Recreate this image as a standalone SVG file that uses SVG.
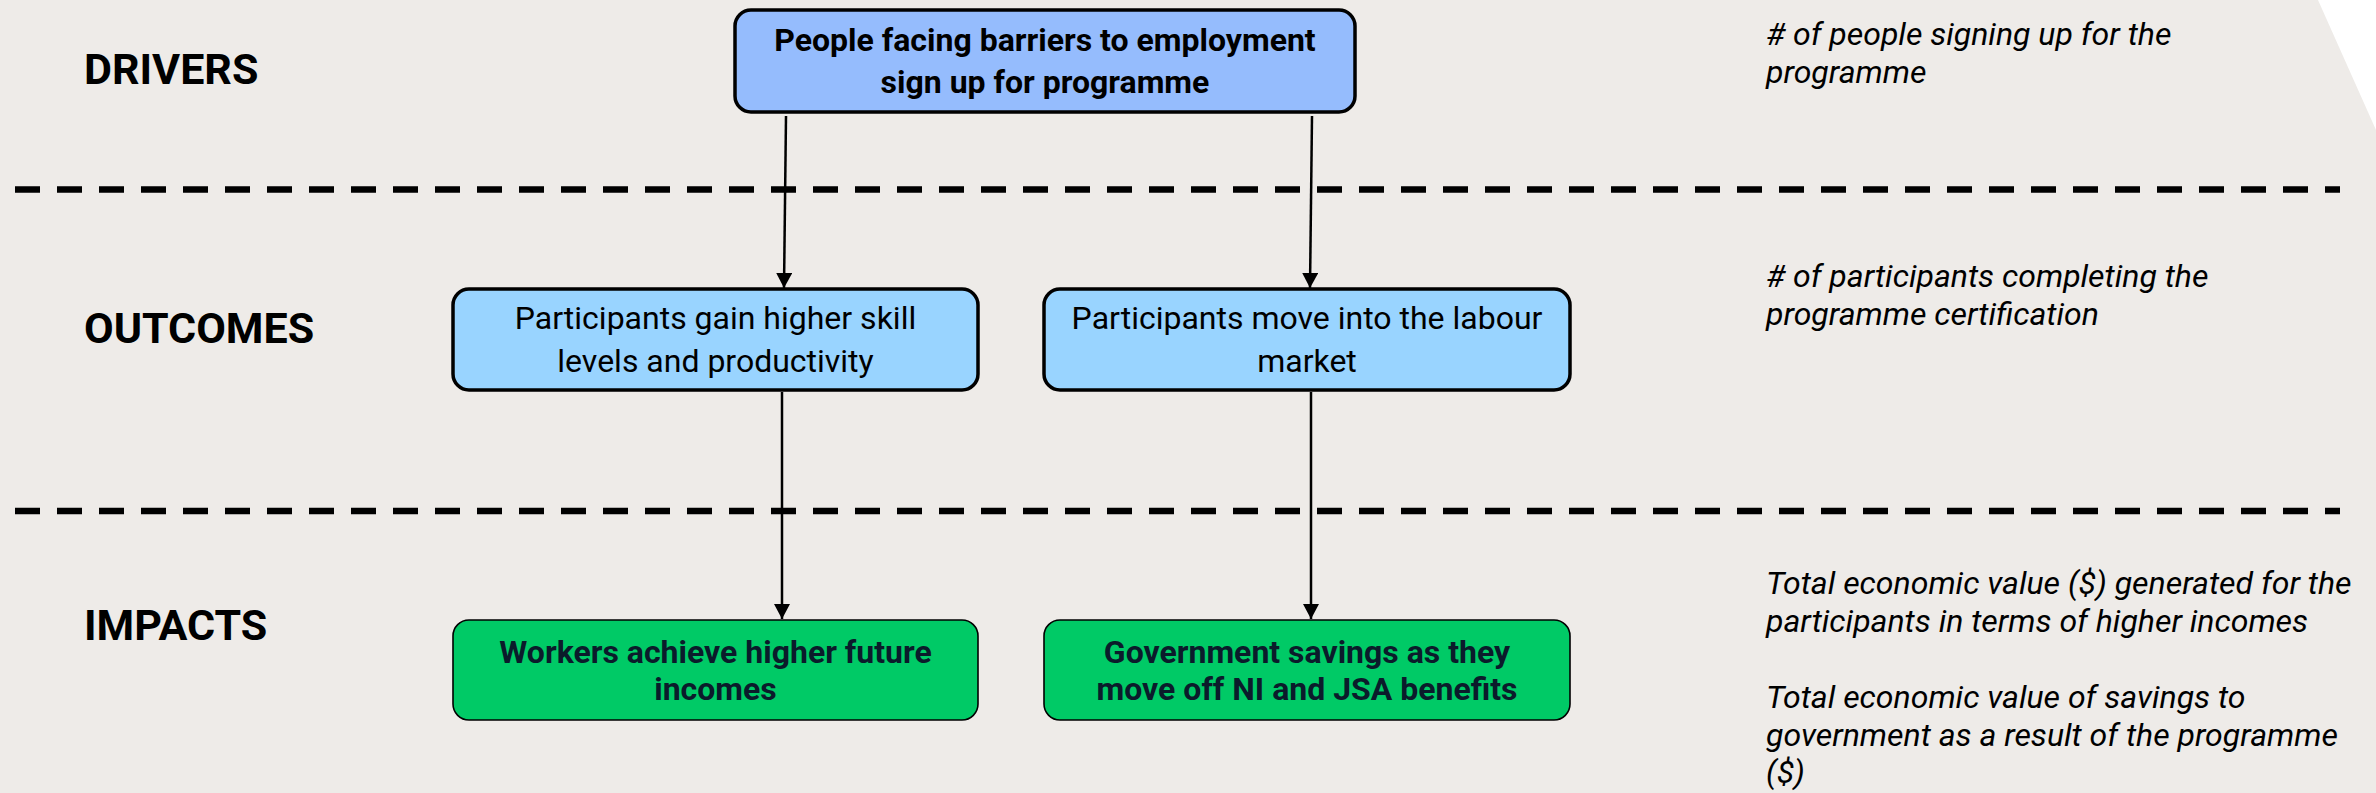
<svg xmlns="http://www.w3.org/2000/svg" width="2376" height="793" viewBox="0 0 2376 793">
<style>
.lbl{font-family:Roboto,"Liberation Sans",sans-serif;font-weight:700;font-size:43px;fill:#000}
.drv{fill:#95bcfd;stroke:#000;stroke-width:3.5}
.out{fill:#99d4ff;stroke:#000;stroke-width:3.5}
.imp{fill:#00ca66;stroke:#000;stroke-width:1.6}
.tb{font-family:Roboto,"Liberation Sans",sans-serif;font-weight:700;font-size:32px;fill:#000;text-anchor:middle}
.tr{font-family:Roboto,"Liberation Sans",sans-serif;font-weight:400;font-size:32px;fill:#000;text-anchor:middle}
.ti{font-family:Roboto,"Liberation Sans",sans-serif;font-weight:700;font-size:32px;fill:#0b1b2b;text-anchor:middle}
.note{font-family:Roboto,"Liberation Sans",sans-serif;font-style:italic;font-size:32px;fill:#000}
.dash{stroke:#000;stroke-width:6.5;stroke-dasharray:25 17;fill:none}
.arr{stroke:#000;stroke-width:2.5;fill:none;marker-end:url(#ah)}
</style>
<defs>
<marker id="ah" markerUnits="userSpaceOnUse" viewBox="0 0 15 16" markerWidth="15" markerHeight="16" refX="15" refY="8" orient="auto">
<path d="M0,0 L15,8 L0,16 z" fill="#000"/>
</marker>
</defs>
<rect x="0" y="0" width="2376" height="793" fill="#ffffff"/>
<polygon points="0,0 2318,0 2376,130 2376,793 0,793" fill="#eeebe8"/>
<g id="separators">
<line class="dash" x1="15" y1="189.5" x2="2340" y2="189.5"/>
<line class="dash" x1="15" y1="511" x2="2340" y2="511"/>
</g>
<g id="row-labels">
<text class="lbl" x="84" y="84">DRIVERS</text>
<text class="lbl" x="84" y="343">OUTCOMES</text>
<text class="lbl" x="84" y="640">IMPACTS</text>
</g>
<g id="connectors">
<line class="arr" x1="786" y1="116" x2="784" y2="288"/>
<line class="arr" x1="1312" y1="116" x2="1310" y2="288"/>
<line class="arr" x1="782" y1="392" x2="782" y2="619"/>
<line class="arr" x1="1311" y1="392" x2="1311" y2="619"/>
</g>
<g id="node-driver">
<rect class="drv" x="735" y="10" width="620" height="102" rx="16"/>
<text class="tb" x="1045" y="51">People facing barriers to employment</text>
<text class="tb" x="1045" y="93">sign up for programme</text>
</g>
<g id="node-outcome-skills">
<rect class="out" x="453" y="289" width="525" height="101" rx="16"/>
<text class="tr" x="715.5" y="329">Participants gain higher skill</text>
<text class="tr" x="715.5" y="372">levels and productivity</text>
</g>
<g id="node-outcome-labour">
<rect class="out" x="1044" y="289" width="526" height="101" rx="16"/>
<text class="tr" x="1307" y="329">Participants move into the labour</text>
<text class="tr" x="1307" y="372">market</text>
</g>
<g id="node-impact-incomes">
<rect class="imp" x="453" y="620" width="525" height="100" rx="16"/>
<text class="ti" x="715.5" y="663">Workers achieve higher future</text>
<text class="ti" x="715.5" y="700">incomes</text>
</g>
<g id="node-impact-savings">
<rect class="imp" x="1044" y="620" width="526" height="100" rx="16"/>
<text class="ti" x="1307" y="663">Government savings as they</text>
<text class="ti" x="1307" y="700">move off NI and JSA benefits</text>
</g>
<g id="notes">
<text class="note" x="1766" y="45">
<tspan x="1766" y="45"># of people signing up for the</tspan>
<tspan x="1766" y="83">programme</tspan>
</text>
<text class="note" x="1766" y="287">
<tspan x="1766" y="287"># of participants completing the</tspan>
<tspan x="1766" y="325">programme certification</tspan>
</text>
<text class="note" x="1766" y="594">
<tspan x="1766" y="594">Total economic value ($) generated for the</tspan>
<tspan x="1766" y="632">participants in terms of higher incomes</tspan>
</text>
<text class="note" x="1766" y="708">
<tspan x="1766" y="708">Total economic value of savings to</tspan>
<tspan x="1766" y="746">government as a result of the programme</tspan>
<tspan x="1766" y="783">($)</tspan>
</text>
</g>
</svg>
